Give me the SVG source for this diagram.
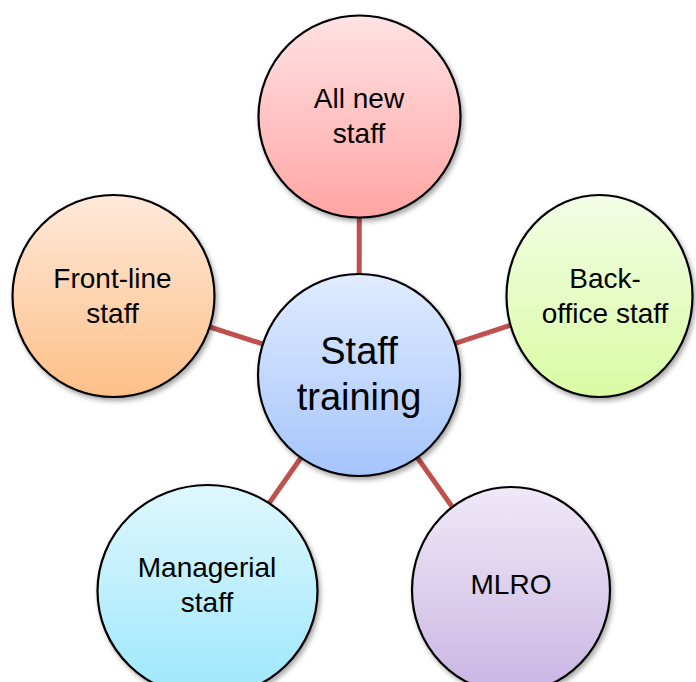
<svg xmlns="http://www.w3.org/2000/svg" width="696" height="682" viewBox="0 0 696 682">
<style>
.node{stroke:#000;stroke-width:2.2;filter:url(#sh)}
.lbl{font-family:"Liberation Sans",Arial,sans-serif;font-size:28px;fill:#000;text-anchor:middle}
.big{font-size:38px}
.conn line{stroke:#C0504D;stroke-width:5}
</style>
<defs>
<filter id="sh" x="-20%" y="-20%" width="140%" height="140%">
<feDropShadow dx="2" dy="3" stdDeviation="2.5" flood-color="#000" flood-opacity="0.35"/>
</filter>
<linearGradient id="gPink" x1="0" y1="0" x2="0" y2="1"><stop offset="0" stop-color="#FFE2E4"/><stop offset="1" stop-color="#FFA5A3"/></linearGradient>
<linearGradient id="gOrange" x1="0" y1="0" x2="0" y2="1"><stop offset="0" stop-color="#FFE9DA"/><stop offset="1" stop-color="#FDBF87"/></linearGradient>
<linearGradient id="gGreen" x1="0" y1="0" x2="0" y2="1"><stop offset="0" stop-color="#F3FDE6"/><stop offset="1" stop-color="#D9FBA3"/></linearGradient>
<linearGradient id="gBlue" x1="0" y1="0" x2="0" y2="1"><stop offset="0" stop-color="#E0ECFF"/><stop offset="1" stop-color="#A5C4FB"/></linearGradient>
<linearGradient id="gCyan" x1="0" y1="0" x2="0" y2="1"><stop offset="0" stop-color="#DFF7FE"/><stop offset="1" stop-color="#9DE7FB"/></linearGradient>
<linearGradient id="gPurple" x1="0" y1="0" x2="0" y2="1"><stop offset="0" stop-color="#EFE9F7"/><stop offset="1" stop-color="#CAB5E3"/></linearGradient>
</defs>
<rect width="696" height="682" fill="#fff"/>
<g id="connectors" class="conn">
<line x1="359" y1="375" x2="359.5" y2="116.5"/>
<line x1="359" y1="375" x2="113.5" y2="296"/>
<line x1="359" y1="375" x2="599" y2="296"/>
<line x1="359" y1="375" x2="207.5" y2="591"/>
<line x1="359" y1="375" x2="511" y2="590"/>
</g>
<g id="node-all-new-staff">
<circle class="node" cx="359.5" cy="116.5" r="101" fill="url(#gPink)"/>
<text class="lbl" x="359" y="108">All new</text>
<text class="lbl" x="359" y="143">staff</text>
</g>
<g id="node-front-line-staff">
<circle class="node" cx="113.5" cy="296" r="101" fill="url(#gOrange)"/>
<text class="lbl" x="112.5" y="288">Front-line</text>
<text class="lbl" x="112.5" y="323">staff</text>
</g>
<g id="node-back-office-staff">
<ellipse class="node" cx="599.5" cy="296" rx="93" ry="101" fill="url(#gGreen)"/>
<text class="lbl" x="605" y="288">Back-</text>
<text class="lbl" x="605" y="323">office staff</text>
</g>
<g id="node-managerial-staff">
<ellipse class="node" cx="207.5" cy="591" rx="110" ry="106" fill="url(#gCyan)"/>
<text class="lbl" x="207" y="577">Managerial</text>
<text class="lbl" x="207" y="612">staff</text>
</g>
<g id="node-mlro">
<ellipse class="node" cx="511" cy="590" rx="99" ry="103" fill="url(#gPurple)"/>
<text class="lbl" x="511" y="594">MLRO</text>
</g>
<g id="node-staff-training">
<circle class="node" cx="359" cy="375" r="101" fill="url(#gBlue)"/>
<text class="lbl big" x="359" y="364">Staff</text>
<text class="lbl big" x="359" y="410">training</text>
</g>
</svg>
